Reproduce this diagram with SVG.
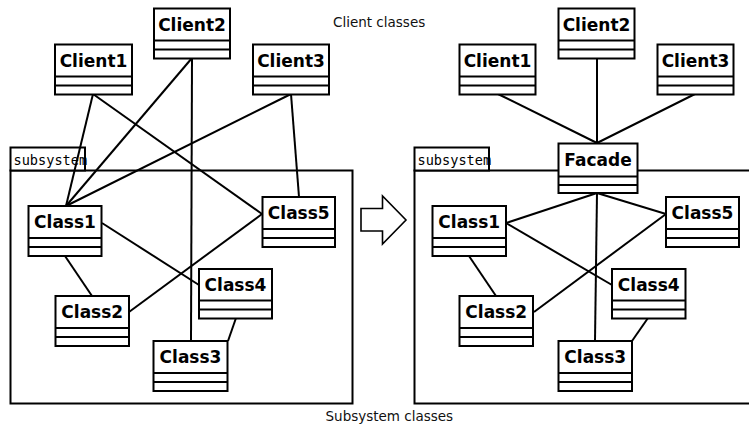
<svg xmlns="http://www.w3.org/2000/svg" width="749" height="425" viewBox="0 0 749 425">
<defs>
<style>
.frame{fill:none;stroke:#000;stroke-width:2}
.tab{fill:#fff;stroke:#000;stroke-width:2}
.box{fill:#fff;stroke:#000;stroke-width:2}
.sep{stroke:#000;stroke-width:2}
.conn line{stroke:#000;stroke-width:2}
.name{font-family:"DejaVu Sans",sans-serif;font-weight:bold;font-size:17px;text-anchor:middle;fill:#000}
.tabtxt{font-family:"DejaVu Sans Mono",monospace;font-size:13.6px;fill:#000}
.cap{font-family:"DejaVu Sans",sans-serif;font-size:13.5px;fill:#111}
.arrow{fill:#fff;stroke:#000;stroke-width:1.6;stroke-linejoin:miter}
</style>
</defs>
<rect width="749" height="425" fill="#fff"/>

<text class="cap" x="333" y="26.5">Client classes</text>
<text class="cap" x="325.5" y="421">Subsystem classes</text>

<!-- frames -->
<g id="subsystem-left">
<rect class="frame" x="10.5" y="170.5" width="342" height="233"/>
<rect class="tab" x="10.5" y="147.5" width="74.5" height="23"/>
<text class="tabtxt" x="13.5" y="165">subsystem</text>
<line class="sep" x1="85" y1="147.5" x2="85" y2="170.5"/>
</g>
<g id="subsystem-right">
<rect class="frame" x="414.5" y="170.5" width="345" height="233"/>
<rect class="tab" x="414.5" y="147.5" width="74.5" height="23"/>
<text class="tabtxt" x="417.5" y="165">subsystem</text>
<line class="sep" x1="489" y1="147.5" x2="489" y2="170.5"/>
</g>

<g id="transform-arrow">
<polygon class="arrow" points="361,208.5 382.5,208.5 382.5,196 406,220 382.5,244 382.5,231 361,231"/>
</g>

<g id="connectors" class="conn">
<line x1="93" y1="94" x2="66" y2="206"/>
<line x1="93" y1="94" x2="262" y2="214"/>
<line x1="192" y1="58" x2="66" y2="206"/>
<line x1="192" y1="58" x2="191" y2="341"/>
<line x1="291" y1="94" x2="66" y2="206"/>
<line x1="291" y1="94" x2="299" y2="197"/>
<line x1="102" y1="223" x2="199" y2="285"/>
<line x1="65" y1="256" x2="92" y2="296"/>
<line x1="129" y1="312" x2="262" y2="214"/>
<line x1="236" y1="318" x2="228" y2="341"/>

<line x1="498" y1="94" x2="597" y2="143"/>
<line x1="597" y1="58" x2="597" y2="143"/>
<line x1="695" y1="94" x2="597" y2="143"/>
<line x1="597" y1="193" x2="506" y2="223"/>
<line x1="597" y1="193" x2="666" y2="214"/>
<line x1="597" y1="193" x2="595" y2="341"/>
<line x1="506" y1="223" x2="612" y2="285"/>
<line x1="469" y1="256" x2="496" y2="296"/>
<line x1="534" y1="312" x2="666" y2="214"/>
<line x1="648" y1="318" x2="632" y2="341"/>
</g>

<!-- left nodes -->
<g id="L-Client1"><rect class="box" x="55" y="44.5" width="77" height="50"/><line class="sep" x1="55" y1="76.5" x2="132" y2="76.5"/><line class="sep" x1="55" y1="85.5" x2="132" y2="85.5"/><text class="name" x="93.5" y="66.5">Client1</text></g>
<g id="L-Client2"><rect class="box" x="154" y="8.5" width="76" height="50"/><line class="sep" x1="154" y1="40.5" x2="230" y2="40.5"/><line class="sep" x1="154" y1="49.5" x2="230" y2="49.5"/><text class="name" x="192" y="30.5">Client2</text></g>
<g id="L-Client3"><rect class="box" x="253" y="44.5" width="76" height="50"/><line class="sep" x1="253" y1="76.5" x2="329" y2="76.5"/><line class="sep" x1="253" y1="85.5" x2="329" y2="85.5"/><text class="name" x="291" y="66.5">Client3</text></g>
<g id="L-Class1"><rect class="box" x="28.5" y="206" width="73" height="50"/><line class="sep" x1="28.5" y1="238" x2="101.5" y2="238"/><line class="sep" x1="28.5" y1="247" x2="101.5" y2="247"/><text class="name" x="65" y="228">Class1</text></g>
<g id="L-Class5"><rect class="box" x="262.5" y="197" width="72.5" height="50"/><line class="sep" x1="262.5" y1="229" x2="335" y2="229"/><line class="sep" x1="262.5" y1="238" x2="335" y2="238"/><text class="name" x="298.75" y="219">Class5</text></g>
<g id="L-Class4"><rect class="box" x="199" y="269" width="73" height="49.5"/><line class="sep" x1="199" y1="300.5" x2="272" y2="300.5"/><line class="sep" x1="199" y1="309.5" x2="272" y2="309.5"/><text class="name" x="235.5" y="291">Class4</text></g>
<g id="L-Class2"><rect class="box" x="55.5" y="296" width="73.5" height="50"/><line class="sep" x1="55.5" y1="328" x2="129" y2="328"/><line class="sep" x1="55.5" y1="337" x2="129" y2="337"/><text class="name" x="92.25" y="318">Class2</text></g>
<g id="L-Class3"><rect class="box" x="153.5" y="341" width="74" height="50"/><line class="sep" x1="153.5" y1="373" x2="227.5" y2="373"/><line class="sep" x1="153.5" y1="382" x2="227.5" y2="382"/><text class="name" x="190.5" y="363">Class3</text></g>

<!-- right nodes -->
<g id="R-Client1"><rect class="box" x="459.5" y="44.5" width="76" height="50"/><line class="sep" x1="459.5" y1="76.5" x2="535.5" y2="76.5"/><line class="sep" x1="459.5" y1="85.5" x2="535.5" y2="85.5"/><text class="name" x="497.5" y="66.5">Client1</text></g>
<g id="R-Client2"><rect class="box" x="558.5" y="8.5" width="76" height="50"/><line class="sep" x1="558.5" y1="40.5" x2="634.5" y2="40.5"/><line class="sep" x1="558.5" y1="49.5" x2="634.5" y2="49.5"/><text class="name" x="596.5" y="30.5">Client2</text></g>
<g id="R-Client3"><rect class="box" x="657.5" y="44.5" width="76" height="50"/><line class="sep" x1="657.5" y1="76.5" x2="733.5" y2="76.5"/><line class="sep" x1="657.5" y1="85.5" x2="733.5" y2="85.5"/><text class="name" x="695.5" y="66.5">Client3</text></g>
<g id="R-Facade"><rect class="box" x="558.5" y="143.5" width="79" height="49.5"/><line class="sep" x1="558.5" y1="176.5" x2="637.5" y2="176.5"/><line class="sep" x1="558.5" y1="185" x2="637.5" y2="185"/><text class="name" x="598" y="165.5">Facade</text></g>
<g id="R-Class1"><rect class="box" x="432.5" y="206" width="73.5" height="50"/><line class="sep" x1="432.5" y1="238" x2="506" y2="238"/><line class="sep" x1="432.5" y1="247" x2="506" y2="247"/><text class="name" x="469.25" y="228">Class1</text></g>
<g id="R-Class5"><rect class="box" x="666" y="197" width="73" height="50"/><line class="sep" x1="666" y1="229" x2="739" y2="229"/><line class="sep" x1="666" y1="238" x2="739" y2="238"/><text class="name" x="702.5" y="219">Class5</text></g>
<g id="R-Class4"><rect class="box" x="612" y="269" width="73.5" height="49.5"/><line class="sep" x1="612" y1="300.5" x2="685.5" y2="300.5"/><line class="sep" x1="612" y1="309.5" x2="685.5" y2="309.5"/><text class="name" x="648.75" y="291">Class4</text></g>
<g id="R-Class2"><rect class="box" x="459.5" y="296" width="73.5" height="50"/><line class="sep" x1="459.5" y1="328" x2="533" y2="328"/><line class="sep" x1="459.5" y1="337" x2="533" y2="337"/><text class="name" x="496.25" y="318">Class2</text></g>
<g id="R-Class3"><rect class="box" x="558.5" y="341" width="73.5" height="50"/><line class="sep" x1="558.5" y1="373" x2="632" y2="373"/><line class="sep" x1="558.5" y1="382" x2="632" y2="382"/><text class="name" x="595.25" y="363">Class3</text></g>
</svg>
